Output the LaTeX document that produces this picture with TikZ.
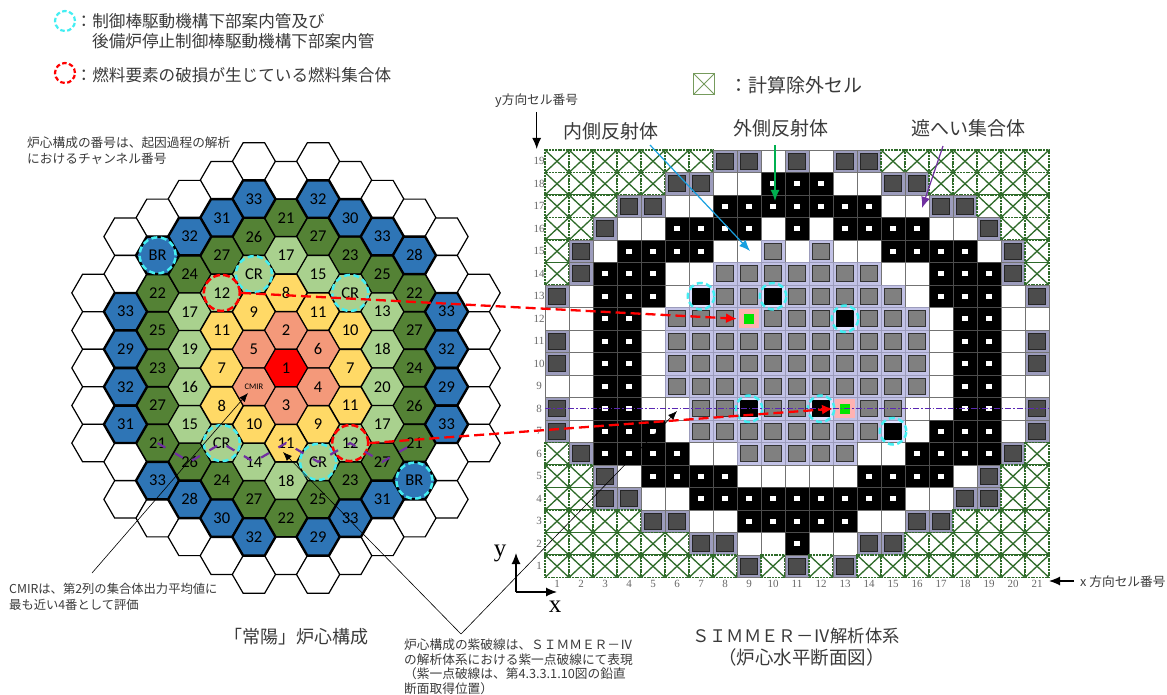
\documentclass[tikz,border=0pt]{standalone}
\usepackage{fontspec}
\setmainfont{Noto Sans CJK JP}
\newfontfamily\numfont{Carlito}
\newfontfamily\serfont{Liberation Serif}
\usetikzlibrary{shapes.geometric,arrows.meta}
\definecolor{hexblue}{HTML}{2E75B6}
\definecolor{hexdark}{HTML}{548235}
\definecolor{hexlight}{HTML}{A9D18E}
\definecolor{hexyellow}{HTML}{FFD966}
\definecolor{hexsalmon}{HTML}{F4997A}
\definecolor{ringcyan}{HTML}{44EEF2}
\definecolor{gridgreen}{HTML}{2F6B2A}
\definecolor{linepurple}{HTML}{7030A0}
\definecolor{noteink}{HTML}{3A3A3A}
\definecolor{celldark}{HTML}{9C9CBC}
\definecolor{celllav}{HTML}{C2C2E6}
\definecolor{arrowblue}{HTML}{18A0E0}
\definecolor{arrowgreen}{HTML}{00B050}
\tikzset{
  hexbase/.style={regular polygon, regular polygon sides=6, minimum size=43.2pt, inner sep=0pt, outer sep=0pt, draw=black, line width=1.2pt, font=\numfont\fontsize{16.5}{16.5}\selectfont},
  hexW/.style={hexbase, fill=white},
  hexD/.style={hexbase, fill=hexdark, line width=1.5pt},
  hexL/.style={hexbase, fill=hexlight},
  hexY/.style={hexbase, fill=hexyellow, line width=1.5pt},
  hexS/.style={hexbase, fill=hexsalmon},
  hexR/.style={hexbase, fill=red},
  hexB/.style={hexbase, fill=hexblue, line width=2.4pt},
  cellbase/.style={rectangle, minimum width=24pt, minimum height=22.5pt, inner sep=0pt, outer sep=0pt},
  cellW/.style={cellbase, fill=white, draw=black!55, line width=.6pt},
  cellB/.style={cellbase, fill=black, draw=black!70, line width=.6pt, path picture={\fill[white] ([shift={(-2.6pt,-2.6pt)}]path picture bounding box.center) rectangle +(5.2pt,5.2pt);}},
  cellX/.style={cellbase, fill=white, draw=gridgreen, dash pattern=on 2pt off .8pt, line width=1.2pt, path picture={\draw[gridgreen, solid, line width=1.3pt] (path picture bounding box.south west) -- (path picture bounding box.north east) (path picture bounding box.north west) -- (path picture bounding box.south east);}},
  cellD/.style={cellbase, fill=celldark, draw=black!55, line width=.6pt, path picture={\draw[black!85, fill=black!70, line width=1pt] ([shift={(-8.5pt,-8pt)}]path picture bounding box.center) rectangle +(17pt,16pt);}},
  cellG/.style={cellbase, fill=celllav, draw=celldark, line width=.6pt, path picture={\draw[black!80, fill=black!50, line width=1pt] ([shift={(-8.5pt,-8pt)}]path picture bounding box.center) rectangle +(17pt,16pt);}},
  cellK/.style={cellbase, fill=blue!12!white, draw=celldark, line width=.6pt, path picture={\fill[black] ([shift={(-9pt,-8.5pt)}]path picture bounding box.center) rectangle +(18pt,17pt);}},
  cellF/.style={cellbase, fill=celllav, draw=celldark, line width=.6pt, path picture={\fill[red!30!white] ([shift={(-10pt,-9.5pt)}]path picture bounding box.center) rectangle +(20pt,19pt); \fill[green!90!black] ([shift={(-4.8pt,-4.8pt)}]path picture bounding box.center) rectangle +(9.6pt,9.6pt);}},
  cyanring/.style={circle, draw=ringcyan, dash pattern=on 6pt off 3.5pt, line width=2.5pt, minimum size=36pt, inner sep=0pt},
  cellring/.style={cyanring, minimum size=26.5pt},
  redring/.style={circle, draw=red, dash pattern=on 7pt off 3pt, line width=2.5pt, minimum size=36pt, inner sep=0pt},
  note/.style={inner sep=0pt, anchor=west, text=noteink, font=\fontsize{12.7}{12.7}\selectfont},
  legend/.style={inner sep=0pt, anchor=west, text=noteink, font=\fontsize{16.6}{16.6}\selectfont},
  title/.style={inner sep=0pt, anchor=west, text=noteink, font=\fontsize{19}{19}\selectfont},
  gridnum/.style={inner sep=0pt, text=black!60, font=\serfont\fontsize{11}{11}\selectfont},
  axislab/.style={inner sep=0pt, font=\serfont\fontsize{25}{25}\selectfont},
  leader/.style={-{Latex[length=9pt,width=7pt]}, line width=.6pt, draw=black},
  refarrow/.style={-{Latex[length=11pt,width=9pt]}, line width=1.2pt},
  redarrow/.style={-{Latex[length=11pt,width=10pt]}, draw=red, line width=2.3pt, dash pattern=on 10pt off 5pt},
  legring/.style={minimum size=20pt, line width=2.2pt, dash pattern=on 4.5pt off 2.5pt},
}
\begin{document}
\begin{tikzpicture}[x=1pt,y=-1pt]
\useasboundingbox (0,0) rectangle (1167,695);
\begin{scope}[shift={(286,368)},x=32.1pt,y=-18.77pt]
\foreach \c/\h in {-1/-11,1/-11,-2/-10,0/-10,2/-10,-3/-9,3/-9,-4/-8,4/-8,-5/-7,5/-7,-5/-5,5/-5,-6/-4,6/-4,-6/-2,6/-2,-6/0,6/0,-6/2,6/2,-6/4,6/4,-5/5,5/5,-5/7,5/7,-4/8,4/8,-3/9,3/9,-2/10,0/10,2/10,-1/11,1/11}
  \node[hexW] (hex\c_\h) at (\c,\h) {};
\foreach \c/\h/\t in {-1/-7/26,0/-8/21,1/-7/27,2/-6/23,3/-5/25,4/-4/22,4/-2/27,4/0/24,4/2/26,4/4/21,3/5/27,2/6/23,1/7/25,0/8/22,-1/7/27,-2/6/24,-3/5/26,-4/4/21,-4/2/27,-4/0/23,-4/-2/25,-4/-4/22,-3/-5/24,-2/-6/27}
  \node[hexD] (hex\c_\h) at (\c,\h) {\t};
\foreach \c/\h/\t in {0/-6/17,1/-5/15,2/-4/CR,3/-3/13,3/-1/18,3/1/20,3/3/17,2/4/12,1/5/CR,0/6/18,-1/5/14,-2/4/CR,-3/3/15,-3/1/16,-3/-1/19,-3/-3/17,-2/-4/12,-1/-5/CR}
  \node[hexL] (hex\c_\h) at (\c,\h) {\t};
\foreach \c/\h/\t in {0/-4/8,1/-3/11,2/-2/10,2/0/7,2/2/11,1/3/9,0/4/11,-1/3/10,-2/2/8,-2/0/7,-2/-2/11,-1/-3/9}
  \node[hexY] (hex\c_\h) at (\c,\h) {\t};
\foreach \c/\h/\t in {0/-2/2,1/-1/6,1/1/4,0/2/3,-1/-1/5}
  \node[hexS] (hex\c_\h) at (\c,\h) {\t};
\node[hexS, font=\numfont\fontsize{8.5}{8.5}\selectfont] (hex-1_1) at (-1,1) {CMIR};
\node[hexR] (hex0_0) at (0,0) {1};
\foreach \c/\h/\t in {-1/-9/33,1/-9/32,-2/-8/31,2/-8/30,-3/-7/32,3/-7/33,-4/-6/BR,4/-6/28,-5/-3/33,5/-3/33,-5/-1/29,5/-1/32,-5/1/32,5/1/29,-5/3/31,5/3/33,-4/6/33,4/6/BR,-3/7/28,3/7/31,-2/8/30,2/8/33,-1/9/32,1/9/29}
  \node[hexB] (hex\c_\h) at (\c,\h) {\t};
\end{scope}
\begin{scope}[shift={(545,577.5)},x=24pt,y=22.5pt]
\foreach \row/\cells in {
  19/{X,X,X,X,X,X,X,D,D,W,D,W,D,D,X,X,X,X,X,X,X},
  18/{X,X,X,X,X,D,D,W,W,B,B,B,W,W,D,D,X,X,X,X,X},
  17/{X,X,X,D,D,W,W,B,B,B,B,B,B,B,W,W,D,D,X,X,X},
  16/{X,X,D,W,W,B,B,B,B,W,B,W,B,B,B,B,W,W,D,X,X},
  15/{X,D,W,B,B,B,B,W,W,G,W,G,W,W,B,B,B,B,W,D,X},
  14/{X,D,B,B,B,W,W,G,G,G,G,G,G,G,W,W,B,B,B,D,X},
  13/{D,W,B,B,B,W,K,G,G,K,G,G,G,G,G,W,B,B,B,W,D},
  12/{W,W,B,B,W,G,G,G,F,G,G,G,K,G,G,G,W,B,B,W,W},
  11/{D,W,B,B,W,G,G,G,G,G,G,G,G,G,G,G,W,B,B,W,D},
  10/{D,W,B,B,W,G,G,G,G,G,G,G,G,G,G,G,W,B,B,W,D},
  9/{W,W,B,B,W,G,G,G,G,G,G,G,G,G,G,G,W,B,B,W,W},
  8/{D,W,B,B,W,W,G,G,K,G,G,K,F,G,G,W,W,B,B,W,D},
  7/{D,W,B,B,B,W,G,G,G,G,G,G,G,G,K,W,B,B,B,W,D},
  6/{X,D,B,B,B,B,W,W,G,G,G,G,G,W,W,B,B,B,B,D,X},
  5/{X,X,D,W,B,B,B,B,W,W,W,W,W,B,B,B,B,W,D,X,X},
  4/{X,X,D,D,W,W,B,B,B,B,B,B,B,B,B,W,W,D,D,X,X},
  3/{X,X,X,X,D,D,W,W,B,B,B,B,B,W,W,D,D,X,X,X,X},
  2/{X,X,X,X,X,X,D,D,W,W,B,W,W,D,D,X,X,X,X,X,X},
  1/{X,X,X,X,X,X,X,X,D,X,D,X,D,X,X,X,X,X,X,X,X}}
  \foreach \t [count=\col] in \cells
    \node[cell\t] (c\col_\row) at (\col-0.5,\row-0.5) {};
\foreach \row in {1,...,19}
  \node[gridnum] (rownum\row) at (-0.25,\row-0.5) {\row};
\foreach \col in {1,...,21}
  \node[gridnum] (colnum\col) at (\col-0.5,-0.3) {\col};
\end{scope}
\node[cellring] (ringA) at (c7_13) {};
\node[cellring] (ringB) at (c10_13) {};
\node[cellring] (ringC) at (c13_12) {};
\node[cellring] (ringD) at (c9_8) {};
\node[cellring] (ringE) at (c12_8) {};
\node[cellring] (ringF) at (c15_7) {};
\node[cyanring] (ringBRa) at (hex-4_-6) {};
\node[cyanring] (ringBRb) at (hex4_6) {};
\node[cyanring] (ringCRa) at (hex-1_-5) {};
\node[cyanring] (ringCRb) at (hex2_-4) {};
\node[cyanring] (ringCRc) at (hex-2_4) {};
\node[cyanring] (ringCRd) at (hex1_5) {};
\node[redring] (ringFa) at (hex-2_-4) {};
\node[redring] (ringFb) at (hex2_4) {};
\draw[linepurple, line width=2.2pt, dash pattern=on 9pt off 11pt] (hex-4_4.center) -- (hex-3_5.center) -- (hex-2_4.center) -- (hex-1_5.center) -- (hex0_4.center) -- (hex1_5.center) -- (hex2_4.center) -- (hex3_5.center) -- (hex4_4.center);
\draw[linepurple!80!blue, line width=.9pt, dash pattern=on 6pt off 2pt on 1.5pt off 2pt] (c1_8.west) -- (c21_8.east);
\draw[redarrow] (ringFa.east) -- (c9_12.west);
\draw[redarrow] (ringFb.east) -- (c13_8.west);
\node[cyanring, legring] (legcyan) at (65,21) {};
\node[redring, legring] (legred) at (65,73) {};
\node[legend] (legA) at (75.5,21) {：制御棒駆動機構下部案内管及び};
\node[legend] (legB) at (92,41) {後備炉停止制御棒駆動機構下部案内管};
\node[legend] (legC) at (75.5,75) {：燃料要素の破損が生じている燃料集合体};
\node[note] (noteA) at (27,143) {炉心構成の番号は、起因過程の解析};
\node[note] (noteB) at (27,159) {におけるチャンネル番号};
\node[note, font=\fontsize{12.3}{12.3}\selectfont] (noteC) at (9,589) {CMIRは、第2列の集合体出力平均値に};
\node[note, font=\fontsize{12.3}{12.3}\selectfont] (noteD) at (9,605) {最も近い4番として評価};
\node[note] (noteE) at (404,645) {炉心構成の紫破線は、ＳＩＭＭＥＲ－Ⅳ};
\node[note] (noteF) at (404,660) {の解析体系における紫一点破線にて表現};
\node[note] (noteG) at (404,674) {（紫一点破線は、第4.3.3.1.10図の鉛直};
\node[note] (noteH) at (404,689) {断面取得位置）};
\node[note] (ylab) at (495,101) {y方向セル番号};
\node[note] (xlab) at (1080,582) {x 方向セル番号};
\node[title, font=\fontsize{18}{18}\selectfont] (coretitle) at (224,637) {「常陽」炉心構成};
\node[title, font=\fontsize{17.3}{17.3}\selectfont] (simtitleA) at (692,636) {ＳＩＭＭＥＲ－Ⅳ解析体系};
\node[title, font=\fontsize{18.5}{18.5}\selectfont] (simtitleB) at (718,657) {（炉心水平断面図）};
\node[title] (reftitleA) at (563,131) {内側反射体};
\node[title] (reftitleB) at (733,128) {外側反射体};
\node[title] (reftitleC) at (911,128) {遮へい集合体};
\node[draw=hexdark!80!white, line width=1.5pt, minimum width=21pt, minimum height=21pt, inner sep=0pt, path picture={\draw[hexdark!80!white, line width=1pt] (path picture bounding box.south west) -- (path picture bounding box.north east) (path picture bounding box.north west) -- (path picture bounding box.south east);}] (legbox) at (704,84) {};
\node[title] (legX) at (729.5,85) {：計算除外セル};
\node[axislab] (ysym) at (500,553) {y};
\node[axislab] (xsym) at (555,607) {x};
\coordinate (origin) at (516,592);
\coordinate (ytip) at (516,553);
\coordinate (xtip) at (557,592);
\coordinate (ystart) at (536.7,112);
\coordinate (ytipB) at (536.7,149);
\coordinate (xstart) at (1074,581);
\coordinate (xtipB) at (1049,581);
\coordinate (cmirend) at (92,573);
\coordinate (cmirtip) at (248,393);
\coordinate (apex) at (461,634);
\coordinate (apexL) at (283,452);
\coordinate (apexR) at (677,411);
\coordinate (innerA) at (650,145);
\coordinate (innerB) at (750,251);
\coordinate (outerA) at (775,145);
\coordinate (outerB) at (775,201);
\coordinate (shieldA) at (943,146);
\coordinate (shieldB) at (922,208);
\draw[refarrow, black] (origin) -- (ytip);
\draw[refarrow, black] (origin) -- (xtip);
\draw[refarrow, black] (ystart) -- (ytipB);
\draw[refarrow, black] (xstart) -- (xtipB);
\draw[leader] (cmirend) -- (cmirtip);
\draw[leader] (apex) -- (apexL);
\draw[leader] (apex) -- (apexR);
\draw[refarrow, draw=arrowblue] (innerA) -- (innerB);
\draw[refarrow, draw=arrowgreen] (outerA) -- (outerB);
\draw[refarrow, draw=linepurple] (shieldA) -- (shieldB);
\end{tikzpicture}
\end{document}
